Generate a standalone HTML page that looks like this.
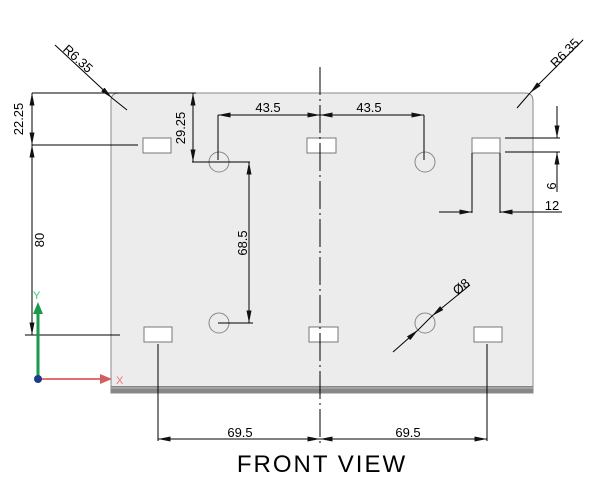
<!DOCTYPE html>
<html><head><style>body{margin:0;background:#fff}svg{display:block}</style></head><body>
<svg width="600" height="480" xmlns="http://www.w3.org/2000/svg" font-family="Liberation Sans, sans-serif">
<defs>
<marker id="a" viewBox="0 0 10 4" refX="10" refY="2" markerWidth="14" markerHeight="5" markerUnits="userSpaceOnUse" orient="auto-start-reverse"><path d="M0,0L10,2L0,4z" fill="#111"/></marker>
</defs>
<path d="M111,393 V101 Q111,93 119,93 H525 Q533,93 533,101 V393 Z" fill="#ececec" stroke="#888"/>
<rect x="111" y="386" width="422" height="7" fill="#888"/>
<line x1="111" y1="388" x2="533" y2="388" stroke="#bbb"/>
<g fill="#fff" stroke="#777">
<rect x="143" y="138" width="28" height="15"/><rect x="307" y="138" width="29" height="15"/><rect x="472" y="138" width="28" height="15"/>
<rect x="144" y="327" width="28" height="15"/><rect x="309" y="327" width="29" height="15"/><rect x="474" y="327" width="28" height="15"/>
</g>
<g fill="none" stroke="#888"><circle cx="219" cy="162" r="10"/><circle cx="425" cy="162" r="10"/><circle cx="219" cy="323" r="10"/><circle cx="425" cy="323" r="10"/></g>
<g stroke="#000" stroke-width="1" fill="none">
<line x1="320" y1="67" x2="320" y2="445" stroke-dasharray="28,4,2,4"/>
<line x1="32" y1="93" x2="196" y2="93"/><line x1="32" y1="145" x2="138" y2="145"/><line x1="25" y1="335" x2="120" y2="335"/>
<line x1="32" y1="93" x2="32" y2="145" marker-start="url(#a)" marker-end="url(#a)"/>
<line x1="32" y1="145" x2="32" y2="335" marker-start="url(#a)" marker-end="url(#a)"/>
<line x1="193" y1="93" x2="193" y2="162" marker-start="url(#a)" marker-end="url(#a)"/>
<line x1="192" y1="162" x2="250" y2="162"/><line x1="218" y1="323" x2="253" y2="323"/>
<line x1="249" y1="162" x2="249" y2="323" marker-start="url(#a)" marker-end="url(#a)"/>
<line x1="218" y1="115" x2="218" y2="160"/><line x1="424" y1="115" x2="424" y2="160"/>
<line x1="218" y1="115" x2="320" y2="115" marker-start="url(#a)" marker-end="url(#a)"/>
<line x1="320" y1="115" x2="424" y2="115" marker-start="url(#a)" marker-end="url(#a)"/>
<line x1="505" y1="138" x2="560" y2="138"/><line x1="505" y1="152" x2="560" y2="152"/>
<line x1="557" y1="106" x2="557" y2="138" marker-end="url(#a)"/><line x1="557" y1="192" x2="557" y2="152" marker-end="url(#a)"/>
<line x1="472" y1="153" x2="472" y2="213"/><line x1="500" y1="153" x2="500" y2="213"/>
<line x1="439" y1="212" x2="472" y2="212" marker-end="url(#a)"/><line x1="562" y1="212" x2="500" y2="212" marker-end="url(#a)"/>
<line x1="158" y1="344" x2="158" y2="441"/><line x1="487" y1="344" x2="487" y2="441"/>
<line x1="158" y1="439" x2="320" y2="439" marker-start="url(#a)" marker-end="url(#a)"/>
<line x1="320" y1="439" x2="487" y2="439" marker-start="url(#a)" marker-end="url(#a)"/>
<line x1="55" y1="45" x2="112" y2="98" marker-end="url(#a)"/><line x1="112" y1="98" x2="127" y2="110"/>
<line x1="583" y1="40" x2="530" y2="93" marker-end="url(#a)"/><line x1="530" y1="93" x2="517" y2="108"/>
<line x1="470" y1="285" x2="432" y2="316" marker-end="url(#a)"/><line x1="432" y1="316" x2="418" y2="330"/><line x1="418" y1="330" x2="393" y2="352" marker-start="url(#a)"/>
</g>
<g font-size="13" fill="#000">
<text transform="translate(23,119) rotate(-90)" text-anchor="middle">22.25</text>
<text transform="translate(44,240) rotate(-90)" text-anchor="middle">80</text>
<text transform="translate(185,128) rotate(-90)" text-anchor="middle">29.25</text>
<text transform="translate(247,243) rotate(-90)" text-anchor="middle">68.5</text>
<text x="268" y="112" text-anchor="middle">43.5</text>
<text x="369" y="112" text-anchor="middle">43.5</text>
<text transform="translate(556,186) rotate(-90)" text-anchor="middle">6</text>
<text x="552" y="210" text-anchor="middle">12</text>
<text x="240" y="437" text-anchor="middle">69.5</text>
<text x="408" y="437" text-anchor="middle">69.5</text>
<text transform="translate(75,62) rotate(42)" text-anchor="middle">R6.35</text>
<text transform="translate(568,56) rotate(-45)" text-anchor="middle">R6.35</text>
<text transform="translate(464,290) rotate(-40)" text-anchor="middle">Ø8</text>
<text x="322" y="472" text-anchor="middle" font-size="24" font-weight="100" letter-spacing="2">FRONT VIEW</text>
</g>
<line x1="38" y1="379" x2="38" y2="312" stroke="#1a9a4a" stroke-width="3"/>
<path d="M33,314 L38,302 L43,314Z" fill="#1a9a4a"/>
<line x1="38" y1="379" x2="102" y2="379" stroke="#e07070" stroke-width="2"/>
<path d="M100,374 L112,379 L100,384Z" fill="#d06060"/>
<circle cx="38" cy="379" r="4" fill="#1a3a8a"/>
<text x="33" y="299" font-size="11" fill="#3c6">Y</text>
<text x="116" y="384" font-size="11" fill="#e77">X</text>
</svg>
</body></html>
